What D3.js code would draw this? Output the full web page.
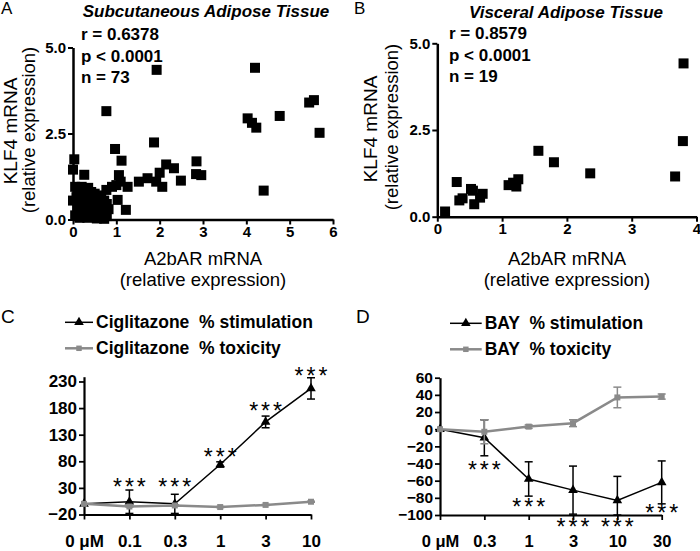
<!DOCTYPE html>
<html><head><meta charset="utf-8">
<script src="https://cdn.jsdelivr.net/npm/d3@7"></script>
<style>
body{margin:0;background:#fff}
svg{display:block}
text{font-family:"Liberation Sans",Arial,sans-serif;fill:#000;white-space:pre}
</style>
</head><body>
<svg id="c" width="700" height="551"></svg>
<script>
// ---------- DATA ----------
// Panel A: Subcutaneous adipose tissue, [A2bAR mRNA, KLF4 mRNA]
const scatterA = [
  [1.93,4.35],[4.20,4.41],[0.77,3.15],[5.45,3.40],[5.56,3.47],[4.77,3.01],
  [4.03,2.94],[4.13,2.81],[4.23,2.67],[5.69,2.52],[4.40,0.84],[1.87,2.24],
  [0.97,2.05],[1.12,1.71],[2.85,1.69],[2.84,1.32],[2.96,1.29],[2.15,1.60],
  [2.33,1.49],[2.49,1.13],[2.00,1.36],[2.06,0.95],[1.92,1.10],[1.72,1.20],
  [1.52,1.10],[1.26,0.95],[1.06,1.29],[1.10,1.10],[1.00,1.00],[1.03,0.57],
  [1.22,0.28],[0.90,0.95],[0.77,0.86],[0.03,1.75],[0.00,1.45],[0.26,1.30],
  [0.00,0.55],
  [0.05,0.95],[0.12,0.85],[0.20,0.95],[0.28,0.90],[0.35,0.92],[0.42,0.80],
  [0.50,0.75],[0.58,0.70],[0.65,0.62],[0.72,0.55],[0.78,0.45],[0.82,0.30],
  [0.08,0.65],[0.15,0.55],[0.25,0.60],[0.33,0.70],[0.45,0.55],[0.55,0.50],
  [0.62,0.40],[0.70,0.35],[0.10,0.35],[0.18,0.25],[0.28,0.40],[0.38,0.30],
  [0.48,0.28],[0.58,0.20],[0.68,0.15],[0.78,0.10],[0.05,0.12],[0.15,0.05],
  [0.25,0.12],[0.33,0.05],[0.45,0.10],[0.55,0.03],[0.65,0.05],[0.72,0.02]
];
// Panel B: Visceral adipose tissue
const scatterB = [
  [0.12,0.15],[0.30,1.00],[0.34,0.47],[0.39,0.53],[0.52,0.80],[0.57,0.36],
  [0.66,0.55],[0.70,0.66],[0.55,0.75],[1.10,0.91],[1.17,0.98],[1.22,0.87],
  [1.25,1.08],[1.56,1.90],[1.80,1.57],[2.36,1.25],[3.67,1.16],[3.79,2.18],
  [3.80,4.42]
];
const statsA = ["r = 0.6378","p < 0.0001","n = 73"];
const statsB = ["r = 0.8579","p < 0.0001","n = 19"];
const xTicksA = [0,1,2,3,4,5,6];
const xTicksB = [0,1,2,3,4];
const yTicksAB = [0,2.5,5];

// Panel C: Ciglitazone
const doseC = ["0 μM","0.1","0.3","1","3","10"];
const cStim = [0,4,0,74,154,217];
const cStimErr = [0,22,18,5,11,20];
const cTox = [0,-5,-3,-6,-2,4];
const cToxErr = [0,1,1,1,1,1];
const cStarAt = [null,41,41,98,184,250];
const yTicksC = [-20,30,80,130,180,230];

// Panel D: BAY
const doseD = ["0 μM","0.3","1","3","10","30"];
const dStim = [0,-10,-58,-71,-83,-62];
const dStimErr = [0,21,20,28,28,25];
const dTox = [0,-3,3,7,37,38];
const dToxErr = [0,14,2,4,12,3];
const dStarAt = [null,-42,-85,-108,-108,-92];
const yTicksD = [-100,-80,-60,-40,-20,0,20,40,60];

// ---------- DRAW ----------
const svg = d3.select("#c");
const GRAY = "#8a8a8a";

function text(x,y,s,o={}){
  const t = svg.append("text").attr("x",x).attr("y",y).text(s)
    .attr("font-size",o.size||16)
    .attr("font-weight",o.weight||"normal")
    .attr("font-style",o.style||"normal")
    .attr("text-anchor",o.anchor||"start")
    .attr("xml:space","preserve");
  if(o.ls) t.attr("letter-spacing",o.ls);
  if(o.rotate) t.attr("transform",`rotate(${o.rotate},${x},${y})`);
  if(o.dy) t.attr("dy",o.dy);
  return t;
}

function styleAxis(g,w){
  g.selectAll("path.domain").attr("stroke","#000").attr("stroke-width",w);
  g.selectAll(".tick line").attr("stroke","#000").attr("stroke-width",w*0.8);
  g.selectAll(".tick text").attr("font-family","Liberation Sans, Arial, sans-serif")
    .attr("font-weight","bold").attr("fill","#000");
}

function scatter(cfg){
  const x = d3.scaleLinear(cfg.xd, cfg.xr);
  const y = d3.scaleLinear([0,5], cfg.yr);
  const ya = svg.append("g").attr("transform",`translate(${cfg.xr[0]},0)`)
    .call(d3.axisLeft(y).tickValues(yTicksAB).tickFormat(d3.format(".1f")).tickSize(5).tickSizeOuter(0).tickPadding(2));
  ya.selectAll(".tick text").attr("font-size",15);
  styleAxis(ya,2.5);
  const xa = svg.append("g").attr("transform",`translate(0,${cfg.yr[0]})`)
    .call(d3.axisBottom(x).tickValues(cfg.xt).tickFormat(d3.format("d")).tickSize(5).tickSizeOuter(0).tickPadding(2));
  xa.selectAll(".tick text").attr("font-size",15);
  styleAxis(xa,2.5);
  const s = 10;
  svg.append("g").selectAll("rect").data(cfg.data).join("rect")
    .attr("x",d=>x(d[0])-s/2).attr("y",d=>y(d[1])-s/2)
    .attr("width",s).attr("height",s).attr("fill","#000");
}

// Panel A
scatter({data:scatterA, xd:[0,6], xr:[73,333], yr:[219.5,47.5], xt:xTicksA});
text(1,14,"A",{size:17});
text(206,17,"Subcutaneous Adipose Tissue",{size:17,weight:"bold",style:"italic",anchor:"middle"});
statsA.forEach((s,i)=>text(81,40+i*21.5,s,{size:17,weight:"bold"}));
text(10,131,"KLF4 mRNA",{size:19,anchor:"middle",rotate:-90,dy:"0.35em"});
text(29,130,"(relative expression)",{size:18.5,anchor:"middle",rotate:-90,dy:"0.35em"});
text(203,265,"A2bAR mRNA",{size:18.5,anchor:"middle"});
text(203,286,"(relative expression)",{size:18.5,anchor:"middle"});

// Panel B
scatter({data:scatterB, xd:[0,4], xr:[437.3,696.5], yr:[216.7,43.3], xt:xTicksB});
text(354,14,"B",{size:17});
text(566,18,"Visceral Adipose Tissue",{size:17,weight:"bold",style:"italic",anchor:"middle"});
statsB.forEach((s,i)=>text(449,39+i*21.5,s,{size:17,weight:"bold"}));
text(370.5,129,"KLF4 mRNA",{size:19,anchor:"middle",rotate:-90,dy:"0.35em"});
text(392,127,"(relative expression)",{size:18.5,anchor:"middle",rotate:-90,dy:"0.35em"});
text(567,265,"A2bAR mRNA",{size:18.5,anchor:"middle"});
text(567,286,"(relative expression)",{size:18.5,anchor:"middle"});

// Line panels
function linePanel(cfg){
  const x = d3.scalePoint(cfg.cats, cfg.xr);
  const y = d3.scaleLinear(cfg.yd, cfg.yr).clamp(true);
  const ya = svg.append("g").attr("transform",`translate(${cfg.xr[0]},0)`)
    .call(d3.axisLeft(y).tickValues(cfg.yt).tickSize(5).tickSizeOuter(0).tickPadding(2));
  ya.selectAll(".tick text").attr("font-size",cfg.yFont);
  styleAxis(ya,2.2);
  const xa = svg.append("g").attr("transform",`translate(0,${cfg.yr[0]})`)
    .call(d3.axisBottom(x).tickSize(5).tickSizeOuter(0).tickPadding(15));
  xa.selectAll(".tick text").attr("font-size",cfg.xFont);
  styleAxis(xa,2.2);
  const idx = d3.range(cfg.cats.length);
  const cap = 4;
  function series(vals, errs, color, lw, sym, symSize){
    const g = svg.append("g");
    g.selectAll("g.eb").data(idx.filter(i=>errs[i]>0)).join("g").each(function(i){
      const gg = d3.select(this), cx = x(cfg.cats[i]);
      const y1 = y(vals[i]+errs[i]), y2 = y(vals[i]-errs[i]);
      gg.append("line").attr("x1",cx).attr("x2",cx).attr("y1",y1).attr("y2",y2).attr("stroke",color).attr("stroke-width",1.5);
      gg.append("line").attr("x1",cx-cap).attr("x2",cx+cap).attr("y1",y1).attr("y2",y1).attr("stroke",color).attr("stroke-width",1.5);
      gg.append("line").attr("x1",cx-cap).attr("x2",cx+cap).attr("y1",y2).attr("y2",y2).attr("stroke",color).attr("stroke-width",1.5);
    });
    g.append("path").datum(idx)
      .attr("d",d3.line().x(i=>x(cfg.cats[i])).y(i=>y(vals[i])))
      .attr("fill","none").attr("stroke",color).attr("stroke-width",lw);
    g.selectAll("path.m").data(idx).join("path").attr("class","m")
      .attr("transform",i=>`translate(${x(cfg.cats[i])},${y(vals[i])})`)
      .attr("d",d3.symbol(sym,symSize)).attr("fill",color);
  }
  series(cfg.stim, cfg.stimErr, "#000", 1.5, d3.symbolTriangle, 40);
  series(cfg.tox, cfg.toxErr, GRAY, 2.5, d3.symbolSquare, 36);
  // stars
  const yRaw = y.copy().clamp(false);
  idx.filter(i=>cfg.stars[i]!=null).forEach(i=>{
    svg.append("text").attr("x",x(cfg.cats[i])+1.5).attr("y",yRaw(cfg.stars[i])+13)
      .attr("text-anchor","middle").attr("font-size",23).attr("letter-spacing",3).text("***");
  });
  // legend
  const L = cfg.legend;
  [[cfg.names[0],"#000",1.5,d3.symbolTriangle,40],[cfg.names[1],GRAY,2.5,d3.symbolSquare,30]].forEach((r,k)=>{
    const ly = L.y0 + k*26;
    svg.append("line").attr("x1",L.x0).attr("x2",L.x1).attr("y1",ly).attr("y2",ly).attr("stroke",r[1]).attr("stroke-width",r[2]);
    svg.append("path").attr("transform",`translate(${(L.x0+L.x1)/2},${ly})`).attr("d",d3.symbol(r[3],r[4])).attr("fill",r[1]);
    text(L.x1+3, ly+6, r[0], {size:17.5,weight:"bold"});
  });
}

linePanel({cats:doseC, xr:[84,311], yd:[-20,239], yr:[514.5,376.7], yt:yTicksC, yFont:17, xFont:17,
  stim:cStim, stimErr:cStimErr, tox:cTox, toxErr:cToxErr, stars:cStarAt,
  names:["Ciglitazone  % stimulation","Ciglitazone  % toxicity"], legend:{x0:65,x1:93,y0:322.3}});
text(1,323,"C",{size:19});

linePanel({cats:doseD, xr:[440,661.7], yd:[-100,60], yr:[515,377.7], yt:yTicksD, yFont:15.5, xFont:16.5,
  stim:dStim, stimErr:dStimErr, tox:dTox, toxErr:dToxErr, stars:dStarAt,
  names:["BAY  % stimulation","BAY  % toxicity"], legend:{x0:450,x1:481.7,y0:323.3}});
text(356,323,"D",{size:19});
</script>
</body></html>
